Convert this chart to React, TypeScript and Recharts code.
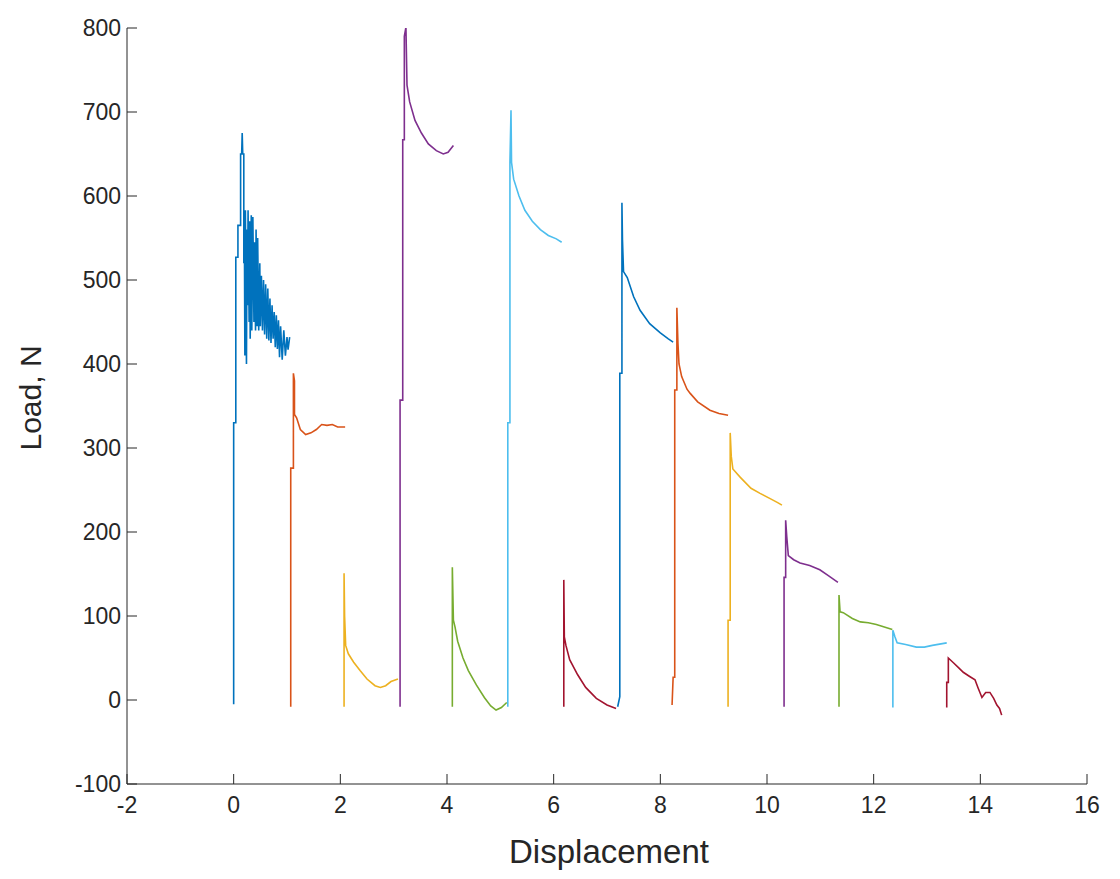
import { Line, LineChart, XAxis, YAxis } from "recharts";

// MATLAB default colour order
const COLORS = ["#0072BD", "#D95319", "#EDB120", "#7E2F8E", "#77AC30", "#4DBEEE", "#A2142F"];

const X_TICKS = [-2, 0, 2, 4, 6, 8, 10, 12, 14, 16];
const Y_TICKS = [-100, 0, 100, 200, 300, 400, 500, 600, 700, 800];

// [displacement, load] pairs, one array per load cycle
const cycle1 = [
  [0, -5], [0, 330], [0.04, 330], [0.04, 527], [0.08, 527], [0.08, 565], [0.13, 565], [0.13, 650],
  [0.15, 650], [0.16, 675], [0.17, 650], [0.19, 650], [0.19, 520], [0.2, 575], [0.21, 410],
  [0.22, 583], [0.24, 400], [0.25, 560], [0.26, 470], [0.27, 583], [0.29, 450], [0.3, 570],
  [0.31, 430], [0.33, 577], [0.34, 440], [0.36, 575], [0.38, 450], [0.39, 545], [0.41, 440],
  [0.42, 560], [0.44, 445], [0.45, 550], [0.47, 440], [0.49, 520], [0.5, 445], [0.52, 505],
  [0.54, 440], [0.56, 500], [0.58, 435], [0.6, 495], [0.62, 430], [0.64, 490], [0.66, 428],
  [0.68, 478], [0.7, 425], [0.72, 470], [0.74, 430], [0.76, 462], [0.78, 420], [0.8, 458],
  [0.82, 418], [0.84, 452], [0.86, 408], [0.88, 445], [0.91, 405], [0.94, 440], [0.97, 410],
  [1.0, 432], [1.02, 417], [1.05, 432],
];
const cycle2 = [
  [1.07, -8], [1.07, 276], [1.12, 276], [1.12, 389], [1.14, 380], [1.14, 340], [1.18, 336],
  [1.25, 322], [1.35, 316], [1.45, 318], [1.55, 322], [1.65, 328], [1.75, 327], [1.85, 328],
  [1.95, 325], [2.09, 325],
];
const cycle3 = [
  [2.07, -8], [2.07, 151], [2.08, 100], [2.1, 65], [2.15, 55], [2.25, 45], [2.37, 35], [2.5, 25],
  [2.65, 17], [2.75, 15], [2.85, 17], [2.95, 22], [3.08, 25],
];
const cycle4 = [
  [3.12, -8], [3.12, 357], [3.17, 357], [3.17, 667], [3.2, 667], [3.2, 790], [3.23, 801],
  [3.25, 732], [3.3, 712], [3.4, 690], [3.52, 675], [3.65, 662], [3.8, 654], [3.93, 650],
  [4.02, 652], [4.12, 660],
];
const cycle5 = [
  [4.1, -8], [4.1, 158], [4.12, 95], [4.15, 87], [4.2, 70], [4.3, 50], [4.4, 35], [4.55, 18],
  [4.7, 3], [4.82, -7], [4.92, -12], [5.02, -9], [5.12, -3],
];
const cycle6 = [
  [5.14, -8], [5.14, 330], [5.18, 330], [5.18, 640], [5.2, 702], [5.21, 640], [5.25, 620],
  [5.35, 600], [5.46, 583], [5.6, 570], [5.75, 560], [5.9, 553], [6.05, 549], [6.15, 545],
];
const cycle7 = [
  [6.19, -8], [6.19, 143], [6.2, 75], [6.23, 65], [6.3, 48], [6.45, 30], [6.6, 15], [6.8, 2],
  [7.0, -6], [7.17, -10],
];
const cycle8 = [
  [7.2, -8], [7.24, 4], [7.24, 389], [7.28, 389], [7.28, 592], [7.29, 548], [7.31, 510],
  [7.38, 503], [7.5, 480], [7.62, 464], [7.8, 448], [8.0, 437], [8.15, 430], [8.24, 426],
];
const cycle9 = [
  [8.22, -6], [8.24, 27], [8.27, 27], [8.27, 369], [8.31, 369], [8.31, 467], [8.33, 425],
  [8.35, 400], [8.4, 385], [8.5, 370], [8.56, 365], [8.7, 355], [8.93, 345], [9.1, 341],
  [9.27, 339],
];
const cycle10 = [
  [9.27, -8], [9.27, 95], [9.31, 95], [9.31, 318], [9.33, 290], [9.36, 275], [9.5, 265],
  [9.7, 252], [9.87, 246], [10.05, 240], [10.2, 235], [10.28, 232],
];
const cycle11 = [
  [10.32, -8], [10.32, 146], [10.35, 146], [10.35, 214], [10.37, 195], [10.4, 172], [10.5, 167],
  [10.62, 163], [10.8, 160], [10.99, 155], [11.15, 148], [11.33, 140],
];
const cycle12 = [
  [11.35, -8], [11.35, 125], [11.37, 105], [11.43, 104], [11.6, 97], [11.75, 93], [11.9, 92],
  [12.05, 90], [12.2, 87], [12.35, 84],
];
const cycle13 = [
  [12.36, -9], [12.36, 83], [12.4, 75], [12.44, 68], [12.6, 66], [12.8, 63], [12.95, 63],
  [13.1, 65], [13.37, 68],
];
const cycle14 = [
  [13.37, -9], [13.37, 21], [13.4, 21], [13.4, 50], [13.5, 44], [13.6, 38], [13.68, 33],
  [13.8, 28], [13.9, 24], [13.96, 14], [14.03, 3], [14.1, 9], [14.18, 9], [14.25, 2],
  [14.31, -6], [14.36, -10], [14.4, -18],
];

const CYCLES = [
  cycle1, cycle2, cycle3, cycle4, cycle5, cycle6, cycle7,
  cycle8, cycle9, cycle10, cycle11, cycle12, cycle13, cycle14,
];

const INK = "#262626";
const FONT = "'Liberation Sans', Arial, Helvetica, sans-serif";
const TICK_LEN = 10;
const TICK_GAP = 10;

function XTick(props: any) {
  const { x, y, payload } = props;
  const axisY = y - TICK_GAP;
  return (
    <g>
      <line x1={x} x2={x} y1={axisY} y2={axisY - TICK_LEN} stroke={INK} strokeWidth={1} />
      <text x={x} y={axisY + 29} textAnchor="middle" fontSize={23} fill={INK} fontFamily={FONT}>
        {payload.value}
      </text>
    </g>
  );
}

function YTick(props: any) {
  const { x, y, payload } = props;
  const axisX = x + TICK_GAP;
  return (
    <g>
      <line x1={axisX} x2={axisX + TICK_LEN} y1={y} y2={y} stroke={INK} strokeWidth={1} />
      <text x={axisX - 6} y={y} dy="0.36em" textAnchor="end" fontSize={23} fill={INK} fontFamily={FONT}>
        {payload.value}
      </text>
    </g>
  );
}

export default function App() {
  return (
    <div style={{ position: "absolute", left: 0, top: 0, width: 1120, height: 879, background: "#fff" }}>
      <LineChart width={1120} height={879} margin={{ top: 28, right: 33, bottom: 0, left: 67 }}>
        <XAxis
          type="number"
          dataKey="x"
          domain={[-2, 16]}
          ticks={X_TICKS}
          allowDataOverflow
          height={95}
          tickSize={0}
          tickMargin={TICK_GAP}
          tickLine={false}
          axisLine={{ stroke: INK, strokeWidth: 1 }}
          tick={<XTick />}
          label={(p: any) => {
            const vb = p.viewBox;
            return (
              <text x={vb.x + vb.width / 2 + 2} y={vb.y + 79} textAnchor="middle" fontSize={33} fill={INK} fontFamily={FONT}>
                Displacement
              </text>
            );
          }}
        />
        <YAxis
          type="number"
          dataKey="y"
          domain={[-100, 800]}
          ticks={Y_TICKS}
          allowDataOverflow
          width={60}
          tickSize={0}
          tickMargin={TICK_GAP}
          tickLine={false}
          axisLine={{ stroke: INK, strokeWidth: 1 }}
          tick={<YTick />}
          label={(p: any) => {
            const vb = p.viewBox;
            const cx = 30;
            const cy = vb.y + vb.height / 2 - 8;
            return (
              <text x={cx} y={cy} transform={`rotate(-90 ${cx} ${cy})`} textAnchor="middle" dy="0.35em" fontSize={30} fill={INK} fontFamily={FONT}>
                Load, N
              </text>
            );
          }}
        />
        {CYCLES.map((c, i) => (
          <Line
            key={i}
            data={c.map(([x, y]) => ({ x, y }))}
            dataKey="y"
            type="linear"
            stroke={COLORS[i % COLORS.length]}
            strokeWidth={1.6}
            dot={false}
            activeDot={false}
            isAnimationActive={false}
          />
        ))}
      </LineChart>
    </div>
  );
}
